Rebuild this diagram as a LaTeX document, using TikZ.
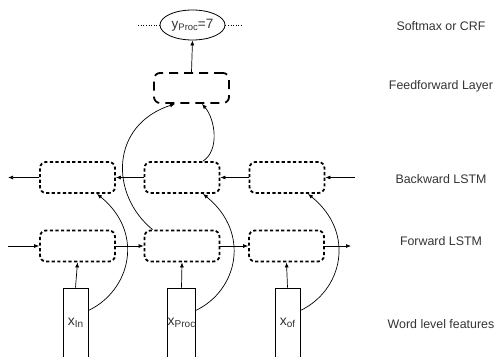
\documentclass[tikz,border=0pt]{standalone}
\usepackage{fontspec}
\setmainfont{Liberation Sans}
\usetikzlibrary{arrows.meta,shapes.geometric,calc}
\newcommand\lowsub[2]{\raisebox{-0.3ex}{\fontsize{#1}{#1}\selectfont #2}}
\begin{document}
\begin{tikzpicture}[x=1pt,y=-1pt,
  lstm/.style={draw,line width=1.8pt,dash pattern=on 3.2pt off 2.4pt,rounded corners=6pt,minimum width=75pt,minimum height=31pt,inner sep=0pt},
  ffbox/.style={draw,line width=1.8pt,dash pattern=on 9pt off 6pt,rounded corners=6pt,minimum width=75pt,minimum height=30pt,inner sep=0pt},
  feat/.style={draw,line width=0.8pt,minimum width=25pt,minimum height=70pt,inner sep=0pt,text=black!80,font=\fontsize{14}{16}\selectfont},
  arr/.style={-{Latex[length=5pt,width=4pt]},line width=0.7pt},
  curv/.style={-{Latex[length=5pt,width=4pt]},line width=0.7pt},
  lbl/.style={font=\fontsize{12.4}{14}\selectfont,text=black!80},
  outp/.style={draw,ellipse,line width=0.8pt,minimum width=65pt,minimum height=30pt,inner sep=0pt,text=black!80,font=\fontsize{13.5}{15}\selectfont}
]
\useasboundingbox (0,0) rectangle (495,356);
% output
\node[outp] (ell) at (192.5,25) {y\lowsub{9.5}{Proc}=7};
\coordinate (dl) at (137,25);
\coordinate (dr) at (243,25);
\draw[dotted,line width=0.6pt] (ell.west) -- (dl);
\draw[dotted,line width=0.6pt] (ell.east) -- (dr);
% feedforward
\node[ffbox] (ff) at (191.5,88) {};
\draw[arr] (ff.north) -- (ell.south);
% backward
\node[lstm] (b1) at (77.5,177.5) {};
\node[lstm] (b2) at (182,177.5) {};
\node[lstm] (b3) at (287,177.5) {};
% forward
\node[lstm] (f1) at (77.5,246) {};
\node[lstm] (f2) at (182,246) {};
\node[lstm] (f3) at (286.5,246) {};
% features
\node[feat,minimum height=69pt] (w1) at (75.5,322.5) {x\lowsub{10}{In}};
\node[feat,minimum height=69pt] (w2) at (181.5,322.5) {x\lowsub{10}{Proc}};
\node[feat,minimum height=69pt] (w3) at (287.5,322.5) {x\lowsub{10}{of}};
% backward arrows
\coordinate (bl) at (8,177.5);
\coordinate (br) at (355,177.5);
\draw[arr] (b1.west) -- (bl);
\draw[arr] (b2.west) -- (b1.east);
\draw[arr] (b3.west) -- (b2.east);
\draw[arr] (br) -- (b3.east);
% forward arrows
\coordinate (fl) at (8,246);
\coordinate (fr) at (351,246);
\draw[arr] (fl) -- (f1.west);
\draw[arr] (f1.east) -- (f2.west);
\draw[arr] (f2.east) -- (f3.west);
\draw[arr] (f3.east) -- (fr);
% feature to forward
\draw[arr] (w1.north) -- (f1.south);
\draw[arr] (w2.north) -- (f2.south);
\draw[arr] (w3.north) -- (f3.south);
% feature to backward curves
\draw[curv] ($(w1.east)+(0,-12)$) .. controls +(42,-20) and +(48,39) .. ($(b1.south)+(19.5,0)$);
\draw[curv] ($(w2.east)+(0,-12)$) .. controls +(42,-20) and +(48,39) .. ($(b2.south)+(21,0)$);
\draw[curv] ($(w3.east)+(0,-12)$) .. controls +(42,-20) and +(48,39) .. ($(b3.south)+(21,0)$);
% to feedforward
\draw[curv] ($(f2.north west)+(9,0)$) .. controls +(-43,-35) and +(-65,21) .. ($(ff.south)+(-16.5,0)$);
\draw[curv] ($(b2.north)+(21,0)$) .. controls +(17,-11) and +(13,15) .. ($(ff.south)+(10.5,0)$);
% labels
\node[lbl] (l1) at (441,26) {Softmax or CRF};
\node[lbl] (l2) at (441,86) {Feedforward Layer};
\node[lbl] (l3) at (441,179) {Backward LSTM};
\node[lbl] (l4) at (441,241) {Forward LSTM};
\node[lbl] (l5) at (441,324) {Word level features};
\end{tikzpicture}
\end{document}
